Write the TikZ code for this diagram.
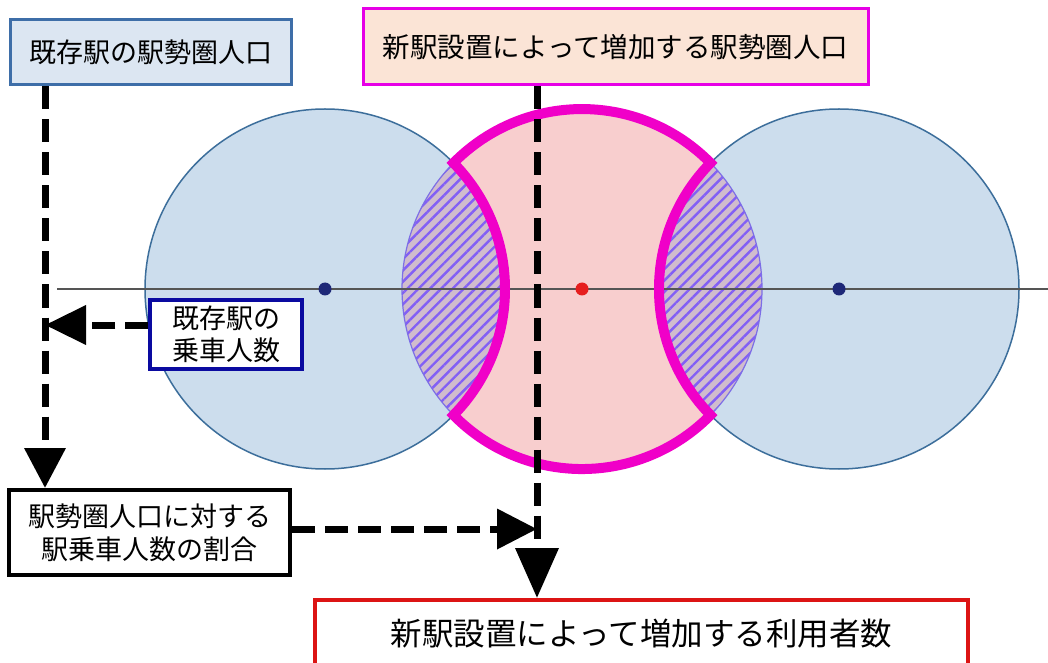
\documentclass[tikz,border=0pt]{standalone}
\usepackage{fontspec}
\newfontfamily\jp{Noto Sans CJK JP}
\usetikzlibrary{arrows.meta,patterns.meta}
\definecolor{cblue}{RGB}{204,221,237}
\definecolor{cblueline}{RGB}{60,110,155}
\definecolor{cpink}{RGB}{248,206,206}
\definecolor{clens}{RGB}{208,188,205}
\definecolor{chatch}{RGB}{130,95,245}
\definecolor{clensline}{RGB}{125,110,230}
\definecolor{cmag}{RGB}{240,0,200}
\definecolor{cnavy}{RGB}{30,40,120}
\definecolor{cred}{RGB}{230,30,30}
\definecolor{caxis}{RGB}{85,85,85}
\definecolor{ctlb}{RGB}{62,110,168}
\definecolor{ctlf}{RGB}{220,230,242}
\definecolor{ctmb}{RGB}{230,0,230}
\definecolor{ctmf}{RGB}{251,228,214}
\definecolor{cmlb}{RGB}{10,10,160}
\definecolor{cbotb}{RGB}{220,20,20}
\tikzset{
  box/.style={rectangle, inner sep=0pt, align=center, text=black,
    font=\jp\fontsize{27}{32}\selectfont},
  dasharrow/.style={line width=7pt, dash pattern=on 23pt off 10pt, draw=black,
    -{Triangle[length=40pt,width=40pt]}},
  zone/.style={fill=cblue, draw=cblueline, line width=1.5pt},
  hatch/.style={pattern={Lines[angle=45,distance=8pt,line width=2.4pt]}, pattern color=chatch}
}
\begin{document}
\begin{tikzpicture}[x=1pt,y=1pt]
\useasboundingbox (0,0) rectangle (1048,662);
\fill[white] (0,0) rectangle (1048,662);
% station areas
\filldraw[zone] (325,373) circle[radius=180pt];
\filldraw[zone] (839,373) circle[radius=180pt];
\fill[cpink] (582,373) circle[radius=180pt];
\begin{scope}
  \clip (325,373) circle[radius=180pt];
  \fill[clens] (582,373) circle[radius=180pt];
  \fill[hatch] (582,373) circle[radius=180pt];
\end{scope}
\begin{scope}
  \clip (839,373) circle[radius=180pt];
  \fill[clens] (582,373) circle[radius=180pt];
  \fill[hatch] (582,373) circle[radius=180pt];
\end{scope}
\draw[clensline, line width=1.2pt] (582,373) circle[radius=180pt];
% axis
\draw[caxis, line width=2pt] (57,373) -- (1048,373);
% magenta outline of the added area
\draw[cmag, line width=10pt, line join=miter]
  (453.5,499) arc[start angle=135.55, end angle=44.45, radius=180pt]
  arc[start angle=135.55, end angle=224.45, radius=180pt]
  arc[start angle=-44.45, end angle=-135.55, radius=180pt]
  arc[start angle=-44.45, end angle=44.45, radius=180pt] -- cycle;
% station dots
\fill[cnavy] (325,373) circle[radius=6.5pt];
\fill[cred] (582,373) circle[radius=6.5pt];
\fill[cnavy] (839,373) circle[radius=6.5pt];
% boxes
\node[box, draw=ctlb, fill=ctlf, line width=3pt, minimum width=281pt, minimum height=65pt] (tl) at (150.5,609.5) {既存駅の駅勢圏人口};
\node[box, draw=ctmb, fill=ctmf, line width=3pt, minimum width=505pt, minimum height=76pt,
  font=\jp\fontsize{27.5}{32}\selectfont] (tm) at (615.5,615) {新駅設置によって増加する駅勢圏人口};
\node[box, draw=cmlb, fill=white, line width=3.5pt, minimum width=152pt, minimum height=69pt] (ml) at (226,327.5) {既存駅の\\乗車人数};
\node[box, draw=black, fill=white, line width=4pt, minimum width=281pt, minimum height=85pt,
  font=\jp\fontsize{27}{33}\selectfont] (bl) at (149.5,129.5) {駅勢圏人口に対する\\駅乗車人数の割合};
\node[box, draw=cbotb, fill=white, line width=4pt, minimum width=653pt, minimum height=68pt,
  font=\jp\fontsize{31.5}{36}\selectfont] (bot) at (641.5,28) {新駅設置によって増加する利用者数};
% connector points
\coordinate (lx) at (45,337);
\coordinate (mx) at (537,133);
% connectors
\draw[dasharrow] (tl.south -| lx) -- (bl.north -| lx);
\draw[dasharrow, -{Triangle[length=41pt,width=38pt]}] (ml.west |- lx) -- (lx);
\draw[dasharrow, -{Triangle[length=40pt,width=39pt]}] (bl.east |- mx) -- (mx);
\draw[dasharrow, -{Triangle[length=50pt,width=42pt]}] (tm.south -| mx) -- (bot.north -| mx);
\end{tikzpicture}
\end{document}
